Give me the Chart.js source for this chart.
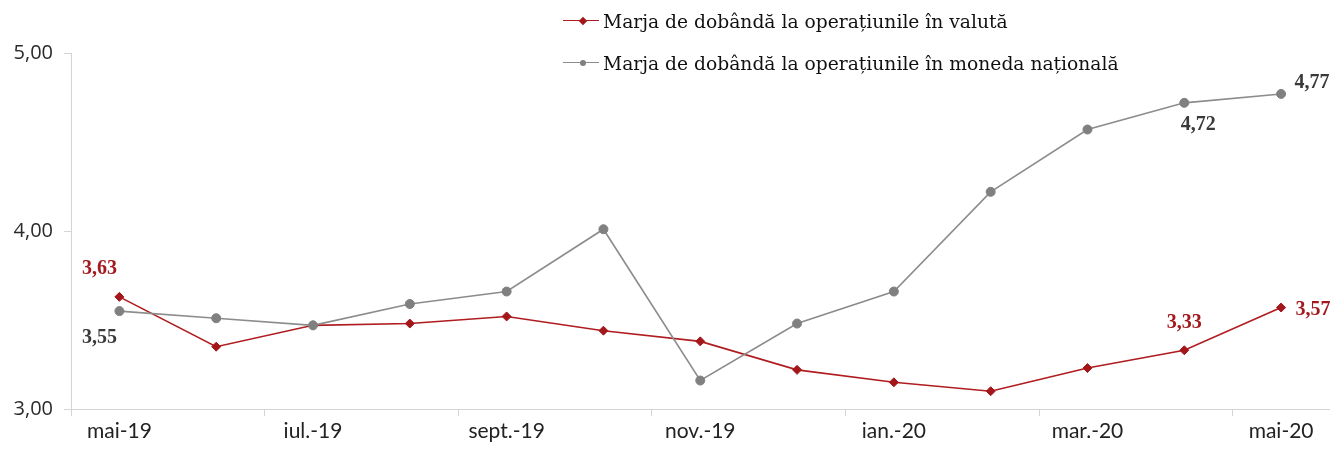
<!DOCTYPE html>
<html><head><meta charset="utf-8">
<script src="https://cdn.jsdelivr.net/npm/chart.js@4"></script>
<style>
html,body{margin:0;padding:0;background:#fff;}
#wrap{position:relative;width:1335px;height:450px;}
#legend{position:absolute;left:563px;top:0px;font-family:"DejaVu Serif",serif;font-size:18.7px;color:#111;}
.row{display:flex;align-items:center;height:42px;}
.sym{position:relative;width:36px;height:20px;margin-right:4px;}
.sym .ln{position:absolute;left:0;right:0;top:9px;height:0;border-top:1.5px solid;}
.sym .mk{position:absolute;left:17px;top:7px;width:6px;height:6px;}
</style></head>
<body><div id="wrap"><canvas id="c" width="1335" height="450"></canvas><div id="legend"></div></div>
<script>
const categories = ['mai-19','iun.-19','iul.-19','aug.-19','sept.-19','oct.-19','nov.-19','dec.-19','ian.-20','feb.-20','mar.-20','apr.-20','mai-20'];
const valutaValues = [3.63,3.35,3.47,3.48,3.52,3.44,3.38,3.22,3.15,3.10,3.23,3.33,3.57];
const nationalaValues = [3.55,3.51,3.47,3.59,3.66,4.01,3.16,3.48,3.66,4.22,4.57,4.72,4.77];
const yTicks = [3,4,5];
const seriesNames = ['Marja de dobândă la operațiunile în valută','Marja de dobândă la operațiunile în moneda națională'];
const labelledIdx = [0,11,12];

// label placement (style, not data): [dx, dy] per labelled point
const labelOffsets = [
  [[-20,-28],[0,-27],[32,2]],
  [[-20,27],[14,22],[31,-11]]
];

const fmt = v => v.toFixed(2).replace('.',',');

const pointLabels = {
  id:'pointLabels',
  afterDatasetsDraw(chart){
    const ctx = chart.ctx;
    chart.data.datasets.forEach((ds, di) => {
      const meta = chart.getDatasetMeta(di);
      labelledIdx.forEach((idx, k) => {
        const pt = meta.data[idx];
        const o = labelOffsets[di][k];
        ctx.save();
        ctx.font = 'bold 20px "Liberation Serif"';
        ctx.fillStyle = ds.labelColor;
        ctx.textAlign = 'center';
        ctx.textBaseline = 'middle';
        ctx.fillText(fmt(ds.data[idx]), pt.x + o[0], pt.y + o[1]);
        ctx.restore();
      });
    });
  }
};

const chart = new Chart(document.getElementById('c'), {
  type:'line',
  data:{
    labels: categories,
    datasets:[
      {label: seriesNames[0], data: valutaValues, order:1,
       borderColor:'#b01c1f', borderWidth:1.6, tension:0,
       pointStyle:'rectRot', pointRadius:4.5, pointBackgroundColor:'#a3171b', pointBorderColor:'#a3171b', pointBorderWidth:1,
       labelColor:'#a3191d', mk:'diamond'},
      {label: seriesNames[1], data: nationalaValues, order:0,
       borderColor:'#8c8c8c', borderWidth:1.6, tension:0,
       pointStyle:'circle', pointRadius:4.5, pointBackgroundColor:'#808080', pointBorderColor:'#808080', pointBorderWidth:1,
       labelColor:'#3a3a3a', mk:'circle'}
    ]
  },
  options:{
    responsive:false, animation:false,
    layout:{padding:{top:53,right:2,left:0,bottom:0}},
    plugins:{legend:{display:false}, tooltip:{enabled:false}},
    scales:{
      x:{
        offset:true,
        grid:{offset:true, drawOnChartArea:false, drawTicks:true, tickLength:7,
              tickColor:(c)=> (c.index%2===0 ? '#d4d4d4' : 'rgba(0,0,0,0)'), color:'#d4d4d4'},
        border:{color:'#d4d4d4', width:1},
        ticks:{autoSkip:false, maxRotation:0, minRotation:0, padding:3,
               font:{family:'Lato', size:21}, color:'#222',
               callback:(v,i)=> (i%2===0 ? categories[i] : '')},
        afterFit:(s)=>{ s.height = 41; }
      },
      y:{
        min:3, max:5,
        afterBuildTicks:(s)=>{ s.ticks = yTicks.map(v=>({value:v})); },
        grid:{drawOnChartArea:false, tickLength:7, tickColor:'#d4d4d4', color:'#d4d4d4'},
        border:{color:'#d4d4d4', width:1},
        ticks:{padding:11, font:{family:'Open Sans', size:20}, color:'#2a2a2a', callback:v=>fmt(v)},
        afterFit:(s)=>{ s.width = 71; }
      }
    }
  },
  plugins:[pointLabels]
});

// HTML legend built from the datasets
const lg = document.getElementById('legend');
chart.data.datasets.forEach(ds => {
  const row = document.createElement('div'); row.className='row';
  const sym = document.createElement('span'); sym.className='sym';
  const ln = document.createElement('span'); ln.className='ln'; ln.style.borderColor = ds.borderColor;
  const mk = document.createElement('span'); mk.className='mk'; mk.style.background = ds.pointBackgroundColor;
  if (ds.mk==='diamond'){ mk.style.transform='rotate(45deg)'; } else { mk.style.borderRadius='50%'; }
  sym.appendChild(ln); sym.appendChild(mk);
  const tx = document.createElement('span'); tx.textContent = ds.label;
  row.appendChild(sym); row.appendChild(tx);
  lg.appendChild(row);
});
</script>
</body></html>
